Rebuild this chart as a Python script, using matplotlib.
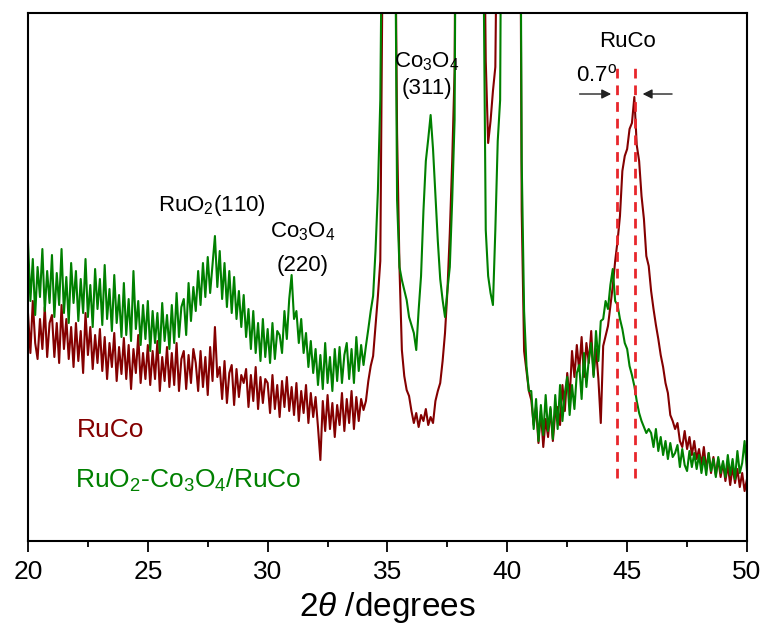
import numpy as np
import matplotlib
matplotlib.use('Agg')
import matplotlib.pyplot as plt
from matplotlib.ticker import MultipleLocator

plt.rcParams['font.family'] = ['Liberation Sans', 'DejaVu Sans']
plt.rcParams['mathtext.fontset'] = 'custom'
plt.rcParams['mathtext.rm'] = 'Liberation Sans'
plt.rcParams['mathtext.it'] = 'Liberation Sans:italic'

# 2theta grid (0.1 deg steps)
two_theta = np.linspace(20, 50, 301)

# RuCo pattern, intensity (a.u.)
ruco = [
    228, 188, 240, 198, 182, 222, 192, 234, 184, 218,   # 20
    226, 184, 218, 178, 236, 192, 222, 182, 214, 174,   # 21
    218, 180, 210, 168, 228, 186, 214, 172, 206, 178,   # 22
    212, 170, 204, 162, 198, 174, 208, 160, 194, 167,   # 23
    203, 162, 196, 152, 192, 168, 206, 158, 188, 162,   # 24
    196, 156, 190, 162, 200, 150, 184, 160, 194, 154,   # 25
    188, 156, 198, 150, 182, 190, 152, 186, 158, 192,   # 26
    178, 150, 190, 154, 184, 146, 194, 160, 214, 164,   # 27
    174, 142, 180, 138, 168, 176, 136, 172, 144, 166,   # 28
    158, 172, 134, 166, 140, 174, 132, 164, 138, 162,   # 29
    158, 128, 166, 132, 156, 124, 160, 134, 164, 130,   # 30
    154, 126, 158, 120, 150, 128, 156, 118, 148, 124,   # 31
    144, 114, 81, 140, 110, 146, 112, 138, 104, 136,    # 32
    116, 148, 110, 142, 118, 150, 112, 144, 120, 142,   # 33
    131, 140, 160, 175, 185, 215, 245, 280, 600, 900,   # 34
    900, 900, 900, 700, 408, 274, 191, 165, 151, 145,   # 35
    130, 118, 128, 114, 126, 120, 132, 116, 124, 118,   # 36
    140, 150, 158, 180, 208, 250, 308, 380, 470, 900,   # 37
    900, 900, 900, 900, 900, 900, 900, 900, 900, 900,   # 38
    700, 480, 398, 420, 450, 474, 700, 900, 900, 900,   # 39
    900, 900, 900, 900, 900, 900, 330, 190, 170, 150,   # 40
    141, 116, 134, 98, 130, 94, 122, 104, 132, 100,     # 41
    128, 134, 116, 156, 130, 168, 142, 190, 164, 196,   # 42
    170, 204, 164, 198, 178, 210, 166, 192, 162, 118,   # 43
    195, 205, 215, 235, 255, 280, 300, 325, 370, 385,   # 44
    392, 412, 418, 444, 396, 380, 345, 322, 285, 275,   # 45
    250, 232, 216, 202, 186, 174, 158, 148, 126, 120,   # 46
    112, 118, 100, 94, 110, 92, 104, 86, 100, 82,       # 47
    92, 76, 94, 72, 88, 68, 84, 66, 82, 64,             # 48
    78, 60, 76, 56, 74, 58, 72, 54, 68, 50,             # 49
    62,
]

# RuO2-Co3O4/RuCo pattern
ruo2_co3o4_ruco = [
    300, 240, 282, 226, 274, 244, 292, 230, 270, 238,   # 20
    286, 224, 268, 236, 292, 228, 264, 218, 278, 238,   # 21
    270, 220, 262, 228, 282, 224, 256, 214, 272, 232,   # 22
    262, 216, 276, 222, 252, 210, 266, 218, 246, 204,   # 23
    258, 206, 242, 200, 270, 212, 240, 196, 236, 202,   # 24
    240, 190, 230, 198, 228, 188, 238, 200, 226, 192,   # 25
    236, 198, 248, 204, 234, 242, 206, 258, 220, 254,   # 26
    230, 270, 236, 278, 244, 284, 248, 276, 305, 254,   # 27
    290, 242, 278, 234, 270, 228, 264, 222, 250, 214,   # 28
    246, 204, 232, 192, 230, 188, 218, 180, 222, 184,   # 29
    212, 178, 218, 182, 210, 206, 188, 230, 202, 242,   # 30
    266, 222, 230, 198, 222, 188, 208, 174, 200, 168,   # 31
    192, 156, 186, 152, 198, 158, 184, 150, 192, 160,   # 32
    194, 158, 186, 198, 162, 192, 158, 204, 170, 196,   # 33
    176, 195, 212, 230, 245, 290, 350, 441, 700, 900,   # 34
    900, 900, 900, 700, 341, 274, 261, 251, 241, 224,   # 35
    216, 208, 191, 231, 265, 330, 380, 402, 426, 392,   # 36
    345, 300, 262, 241, 224, 251, 274, 341, 421, 900,   # 37
    900, 900, 900, 900, 900, 900, 900, 900, 900, 900,   # 38
    600, 311, 265, 248, 236, 311, 400, 441, 900, 900,   # 39
    900, 900, 900, 900, 900, 900, 380, 230, 175, 150,   # 40
    150, 112, 142, 100, 136, 106, 146, 110, 134, 102,   # 41
    146, 112, 156, 120, 148, 164, 126, 156, 132, 168,   # 42
    176, 142, 188, 154, 182, 198, 164, 210, 180, 220,   # 43
    222, 240, 232, 256, 272, 240, 236, 222, 212, 198,   # 44
    192, 175, 166, 155, 140, 128, 120, 114, 108, 112,   # 45
    108, 94, 112, 90, 104, 86, 100, 82, 98, 84,         # 46
    88, 96, 74, 92, 76, 70, 90, 74, 88, 72,             # 47
    86, 68, 84, 66, 88, 70, 82, 64, 84, 68,             # 48
    80, 64, 86, 66, 82, 62, 90, 68, 78, 100,            # 49
    70,
]

# peak positions marked with dashed lines
shift_lines = [44.58, 45.33]

red = '#840000'
green = '#008000'

fig = plt.figure(figsize=(7.67, 6.28), dpi=100)
ax = fig.add_axes([0.0365, 0.1385, 0.9374, 0.8408])

ax.plot(two_theta, ruco, color=red, lw=1.5)
ax.plot(two_theta, ruo2_co3o4_ruco, color=green, lw=1.5)

for xv in shift_lines:
    ax.plot([xv, xv], [63, 473], color='#e8262b', lw=2, ls=(0, (3.5, 2.5)))

# arrows showing the 0.7 deg shift
ax.annotate('', xy=(44.45, 447), xytext=(42.9, 447),
            arrowprops=dict(arrowstyle='-|>', color='#222222', lw=1, mutation_scale=14))
ax.annotate('', xy=(45.53, 447), xytext=(46.99, 447),
            arrowprops=dict(arrowstyle='-|>', color='#222222', lw=1, mutation_scale=14))
ax.text(42.85, 466, '0.7$^{\\mathrm{o}}$', fontsize=16, ha='left', va='center')

# peak labels
ax.text(27.68, 336, 'RuO$_2$(110)', fontsize=16, ha='center', va='center')
ax.text(31.47, 309, 'Co$_3$O$_4$', fontsize=16, ha='center', va='center')
ax.text(31.47, 276, '(220)', fontsize=16, ha='center', va='center')
ax.text(36.65, 479, 'Co$_3$O$_4$', fontsize=16, ha='center', va='center')
ax.text(36.65, 453, '(311)', fontsize=16, ha='center', va='center')
ax.text(45.03, 500, 'RuCo', fontsize=16, ha='center', va='center')

# sample labels
ax.text(22.05, 111, 'RuCo', fontsize=19, color=red, ha='left', va='center')
ax.text(21.95, 61, 'RuO$_2$-Co$_3$O$_4$/RuCo', fontsize=19, color=green, ha='left', va='center')

ax.set_xlim(20, 50)
ax.set_ylim(0, 528)
ax.set_yticks([])
ax.xaxis.set_major_locator(MultipleLocator(5))
ax.xaxis.set_minor_locator(MultipleLocator(2.5))
ax.tick_params(axis='x', which='major', direction='out', length=8, width=1.3, labelsize=19, pad=6)
ax.tick_params(axis='x', which='minor', direction='out', length=4, width=1.3)
for s in ax.spines.values():
    s.set_linewidth(1.5)

ax.set_xlabel('2$\\it{\\theta}$ /degrees', fontsize=24, labelpad=4)

plt.savefig('out.png', dpi=100)
